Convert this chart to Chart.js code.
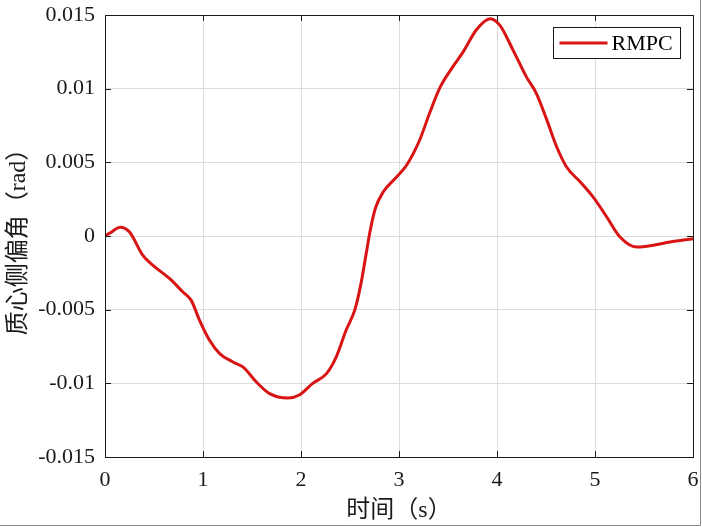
<!DOCTYPE html>
<html>
<head>
<meta charset="utf-8">
<script src="https://cdn.jsdelivr.net/npm/chart.js@4/dist/chart.umd.min.js"></script>
<style>
html,body{margin:0;padding:0;background:#fff;}
#wrap{width:702px;height:527px;position:relative;}
</style>
</head>
<body>
<div id="wrap"><canvas id="c" width="702" height="527"></canvas></div>
<script>
const seriesLabel = "RMPC";
const timeValues = [0, 0.05, 0.155, 0.25, 0.386, 0.49, 0.66, 0.795, 0.88, 0.965, 1.067, 1.17, 1.305, 1.41, 1.545, 1.68, 1.867, 1.987, 2.12, 2.26, 2.36, 2.46, 2.55, 2.61, 2.66, 2.71, 2.76, 2.84, 2.975, 3.077, 3.21, 3.31, 3.42, 3.55, 3.655, 3.79, 3.93, 4.03, 4.165, 4.30, 4.40, 4.51, 4.61, 4.71, 4.85, 4.98, 5.12, 5.255, 5.425, 5.595, 5.765, 6.0];
const slipValues = [0, 0.0002, 0.0006, 0.00027, -0.00131, -0.00199, -0.0029, -0.0038, -0.00437, -0.00572, -0.00708, -0.00798, -0.00855, -0.0089, -0.00991, -0.0107, -0.011, -0.01077, -0.01, -0.00934, -0.0082, -0.0064, -0.005, -0.0033, -0.0014, 0.0005, 0.0019, 0.003, 0.004, 0.0048, 0.0065, 0.0083, 0.0101, 0.0115, 0.0125, 0.014, 0.01475, 0.0143, 0.0126, 0.0108, 0.0097, 0.00785, 0.00604, 0.00468, 0.00367, 0.00265, 0.00129, -0.00007, -0.00075, -0.00063, -0.00041, -0.00018];
const xTickValues = [0, 1, 2, 3, 4, 5, 6];
const xTickLabels = ["0", "1", "2", "3", "4", "5", "6"];
const yTickValues = [-0.015, -0.01, -0.005, 0, 0.005, 0.01, 0.015];
const yTickLabels = ["-0.015", "-0.01", "-0.005", "0", "0.005", "0.01", "0.015"];
const xTitle = "时间（s）";
const yTitle = "质心侧偏角（rad）";

const lineColor = "#d81414";
const serif = "'Liberation Serif', 'Noto Sans CJK SC', serif";

const points = timeValues.map((t, i) => ({x: t, y: slipValues[i]}));

const frameAndTicks = {
  id: 'frameAndTicks',
  afterDraw(chart) {
    const {ctx, chartArea: a, scales} = chart;
    const tl = 6;
    ctx.save();
    ctx.strokeStyle = '#1a1a1a';
    ctx.lineWidth = 1;
    ctx.beginPath();
    xTickValues.forEach(v => {
      const px = Math.round(scales.x.getPixelForValue(v)) + 0.5;
      ctx.moveTo(px, a.bottom); ctx.lineTo(px, a.bottom - tl);
      ctx.moveTo(px, a.top); ctx.lineTo(px, a.top + tl);
    });
    yTickValues.forEach(v => {
      const py = Math.round(scales.y.getPixelForValue(v)) + 0.5;
      ctx.moveTo(a.left, py); ctx.lineTo(a.left + tl, py);
      ctx.moveTo(a.right, py); ctx.lineTo(a.right - tl, py);
    });
    ctx.stroke();
    ctx.strokeRect(Math.round(a.left) + 0.5, Math.round(a.top) + 0.5, Math.round(a.right - a.left), Math.round(a.bottom - a.top));

    // legend
    const bw = 127, bh = 31;
    const bx = Math.round(a.right - 13 - bw) + 0.5, by = Math.round(a.top + 12) + 0.5;
    ctx.fillStyle = '#fff';
    ctx.fillRect(bx, by, bw, bh);
    ctx.strokeStyle = '#1a1a1a';
    ctx.strokeRect(bx, by, bw, bh);
    ctx.strokeStyle = lineColor;
    ctx.lineWidth = 3;
    ctx.beginPath();
    ctx.moveTo(bx + 6, by + bh / 2);
    ctx.lineTo(bx + 54, by + bh / 2);
    ctx.stroke();
    ctx.fillStyle = '#000';
    ctx.font = "22px " + serif;
    ctx.textBaseline = 'middle';
    ctx.fillText(chart.data.datasets[0].label, bx + 58, by + bh / 2 + 1);

    // outer screenshot frame
    ctx.strokeStyle = '#8a8a8a';
    ctx.lineWidth = 1;
    ctx.beginPath();
    ctx.moveTo(0, 525.5); ctx.lineTo(700.5, 525.5); ctx.lineTo(700.5, 0);
    ctx.stroke();
    ctx.restore();
  }
};

new Chart(document.getElementById('c'), {
  type: 'line',
  data: {
    datasets: [{
      label: seriesLabel,
      data: points,
      borderColor: lineColor,
      borderWidth: 3,
      pointRadius: 0,
      fill: false,
      cubicInterpolationMode: 'monotone'
    }]
  },
  options: {
    responsive: false,
    animation: false,
    layout: {padding: {left: 0, right: 9, top: 15, bottom: 0}},
    plugins: {legend: {display: false}, tooltip: {enabled: false}},
    scales: {
      x: {
        type: 'linear', min: 0, max: 6,
        afterBuildTicks(s) { s.ticks = xTickValues.map(v => ({value: v})); },
        afterFit(s) { s.height = 70; s.paddingLeft = 0; s.paddingRight = 0; },
        grid: {color: '#dcdcdc', lineWidth: 1, drawTicks: false},
        border: {display: false},
        ticks: {
          padding: 10, color: '#1a1a1a',
          font: {family: serif, size: 22},
          callback: (v, i) => xTickLabels[i]
        },
        title: {display: true, text: xTitle, color: '#1a1a1a', font: {family: serif, size: 24}, padding: {top: 0, bottom: 2}}
      },
      y: {
        type: 'linear', min: -0.015, max: 0.015,
        afterBuildTicks(s) { s.ticks = yTickValues.map(v => ({value: v})); },
        afterFit(s) { s.width = 105; s.paddingTop = 0; s.paddingBottom = 0; },
        grid: {color: '#dcdcdc', lineWidth: 1, drawTicks: false},
        border: {display: false},
        ticks: {
          padding: 10, color: '#1a1a1a',
          font: {family: serif, size: 22},
          callback: (v, i) => yTickLabels[i]
        },
        title: {display: true, text: yTitle, color: '#1a1a1a', font: {family: serif, size: 24}, padding: {top: 4, bottom: 0}}
      }
    }
  },
  plugins: [frameAndTicks]
});
</script>
</body>
</html>
